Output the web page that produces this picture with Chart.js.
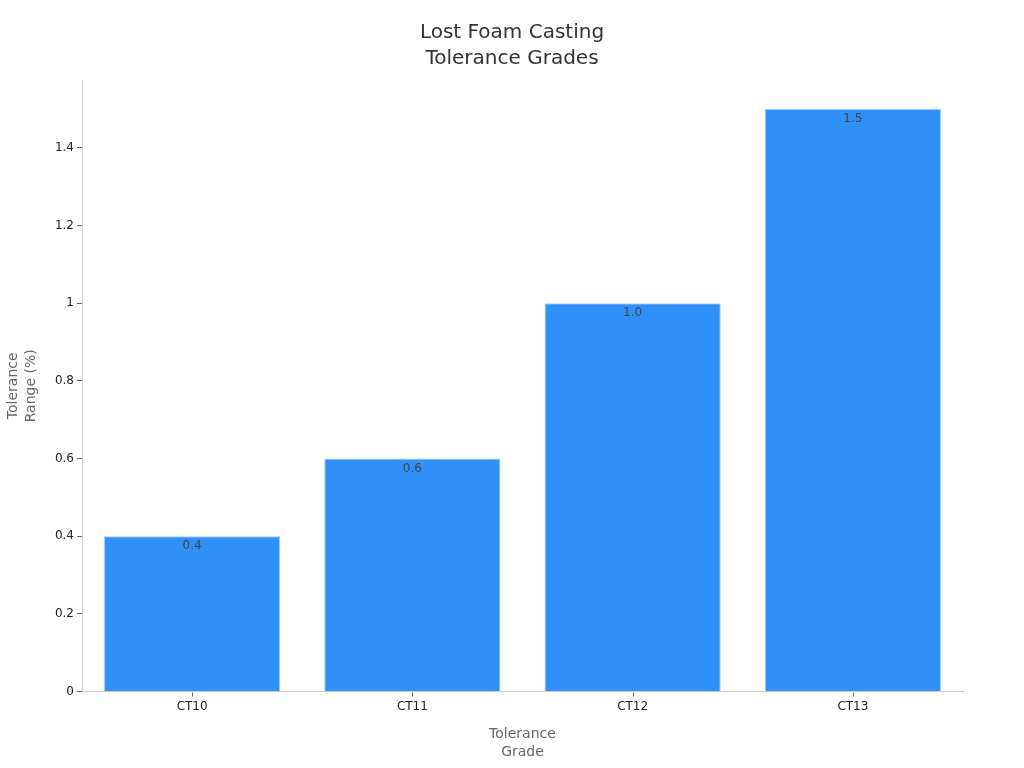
<!DOCTYPE html>
<html>
<head>
<meta charset="utf-8">
<script src="https://cdn.jsdelivr.net/npm/chart.js@4/dist/chart.umd.min.js"></script>
<style>
  html, body { margin: 0; padding: 0; background: #fff; }
  #wrap { width: 1024px; height: 768px; }
</style>
</head>
<body>
<div id="wrap"><canvas id="barChart"></canvas></div>
<script>
// data
const grades = ['CT10', 'CT11', 'CT12', 'CT13'];
const tolerance = [0.4, 0.6, 1.0, 1.5];

Chart.defaults.font.family = '"DejaVu Sans", sans-serif';

// value labels just inside the top of each bar, plus the small x tick marks under each category
const barLabels = {
    id: 'barLabels',
    afterDatasetsDraw(chart) {
        const ctx = chart.ctx;
        const meta = chart.getDatasetMeta(0);
        ctx.save();
        ctx.font = '12px "DejaVu Sans", sans-serif';
        ctx.fillStyle = '#444';
        ctx.textAlign = 'center';
        ctx.textBaseline = 'top';
        meta.data.forEach((bar, i) => {
            ctx.fillText(tolerance[i].toFixed(1), bar.x, bar.y + 4);
        });

        const xs = chart.scales.x;
        const bottom = chart.chartArea.bottom;
        ctx.strokeStyle = '#666';
        ctx.lineWidth = 1;
        xs.ticks.forEach((t, i) => {
            const px = Math.round(xs.getPixelForTick(i)) + 0.5;
            ctx.beginPath();
            ctx.moveTo(px, bottom + 1);
            ctx.lineTo(px, bottom + 5);
            ctx.stroke();
        });
        ctx.restore();
    }
};

const ctxBar = document.getElementById('barChart').getContext('2d');
const barChart = new Chart(ctxBar, {
    type: 'bar',
    data: {
        labels: grades,
        datasets: [{
            data: tolerance,
            backgroundColor: '#2f91f7',
            borderColor: '#9ccbfa',
            borderWidth: 1,
            barPercentage: 0.8,
            categoryPercentage: 1.0,
        }],
    },
    options: {
        responsive: true,
        maintainAspectRatio: false,
        animation: false,
        layout: { padding: { top: 0, left: 0, right: 0, bottom: 3 } },
        plugins: {
            legend: { display: false },
            tooltip: { enabled: false },
            title: {
                display: true,
                text: ['Lost Foam Casting', 'Tolerance Grades'],
                color: '#333',
                font: { size: 20, weight: 'normal', lineHeight: 1.3 },
                padding: { top: 20, bottom: 8 },
            },
        },
        scales: {
            x: {
                grid: { display: true, drawOnChartArea: false, tickLength: 5, tickColor: 'rgba(0,0,0,0)' },
                border: { color: '#ccc' },
                ticks: { color: '#222', font: { size: 12 } },
                title: {
                    display: true,
                    text: ['Tolerance', 'Grade'],
                    color: '#666',
                    font: { size: 14, lineHeight: 1.25 },
                    padding: { top: 9 },
                },
            },
            y: {
                min: 0,
                max: 1.575,
                afterFit: (axis) => { axis.width = 82; },
                grid: { display: true, drawOnChartArea: false, tickLength: 5, tickColor: '#666' },
                border: { color: '#ccc' },
                ticks: {
                    stepSize: 0.2,
                    color: '#222',
                    font: { size: 12 },
                    callback: (v) => Number(v.toFixed(1)).toString(),
                },
                afterBuildTicks: (axis) => {
                    axis.ticks = axis.ticks.filter(t => t.value <= 1.5);
                },
                title: {
                    display: true,
                    text: ['Tolerance', 'Range (%)'],
                    color: '#666',
                    font: { size: 14, lineHeight: 1.3 },
                    padding: { bottom: 0 },
                },
            },
            // empty axis on the right just to keep the margin there
            spacer: {
                position: 'right',
                display: true,
                afterFit: (axis) => { axis.width = 61; },
                grid: { display: false },
                border: { display: false },
                ticks: { display: false },
            },
        },
    },
    plugins: [barLabels],
});
</script>
</body>
</html>
